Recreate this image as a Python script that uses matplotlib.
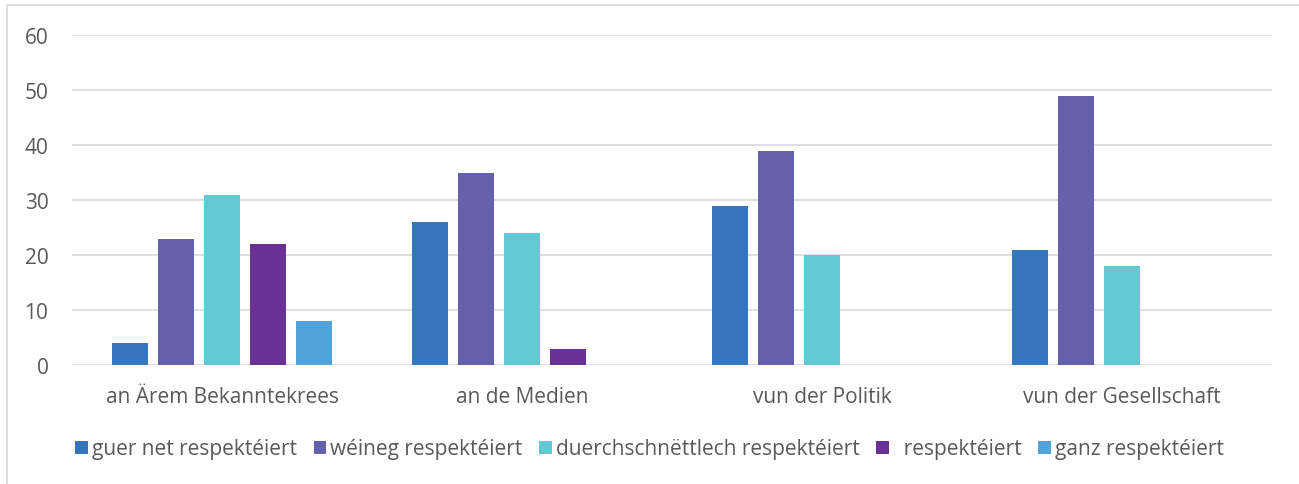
import numpy as np
import matplotlib
matplotlib.use("Agg")
import matplotlib.pyplot as plt
from matplotlib.patches import Rectangle

categories = ["an Ärem Bekanntekrees", "an de Medien", "vun der Politik", "vun der Gesellschaft"]
series = ["guer net respektéiert", "wéineg respektéiert", "duerchschnëttlech respektéiert",
          "  respektéiert", "ganz respektéiert"]
guer_net = [4, 26, 29, 21]
weineg = [23, 35, 39, 49]
duerchschnett = [31, 24, 20, 18]
respekteiert = [22, 3, 0, 0]
ganz = [8, 0, 0, 0]
values = [guer_net, weineg, duerchschnett, respekteiert, ganz]
colors = ["#3575BD", "#6560AC", "#62C9D3", "#673293", "#51A3DA"]

plt.rcParams['font.family'] = ['Open Sans', 'DejaVu Sans']
txt = "#595959"
fs = 15

fig = plt.figure(figsize=(12.99, 4.85), dpi=100)
# outer chart border
fig.patches.append(Rectangle((7 / 1299, -0.05), 1.1, 1 - 6 / 485 + 0.05, transform=fig.transFigure,
                             fill=False, edgecolor="#D9D9D9", lw=1.2))

ax = fig.add_axes([72 / 1299, 1 - 366 / 485, 1200 / 1299, 330 / 485])
x = np.arange(len(categories))
width = 0.123
step = 0.1533
for k, (vals, name, c) in enumerate(zip(values, series, colors)):
    ax.bar(x + (k - 2) * step, vals, width, color=c, label=name, zorder=3)

ax.set_xlim(-0.5, 3.5)
ax.set_ylim(0, 60)
ax.set_yticks(range(0, 61, 10))
ax.grid(axis="y", color="#D9D9D9", lw=1.2, zorder=0)
for s in ax.spines.values():
    s.set_visible(False)
ax.tick_params(axis="both", length=0, labelsize=fs, colors=txt)
ax.tick_params(axis="y", pad=17)
ax.tick_params(axis="x", pad=15)
ax.set_xticks(x)
ax.set_xticklabels(categories)

fig.legend(loc="center", bbox_to_anchor=(0.5, 1 - 450 / 485), ncol=5, frameon=False,
           fontsize=fs, labelcolor=txt, handlelength=0.6, handleheight=0.6,
           handletextpad=0.2, columnspacing=0.8)

fig.savefig("out.png", dpi=100)
